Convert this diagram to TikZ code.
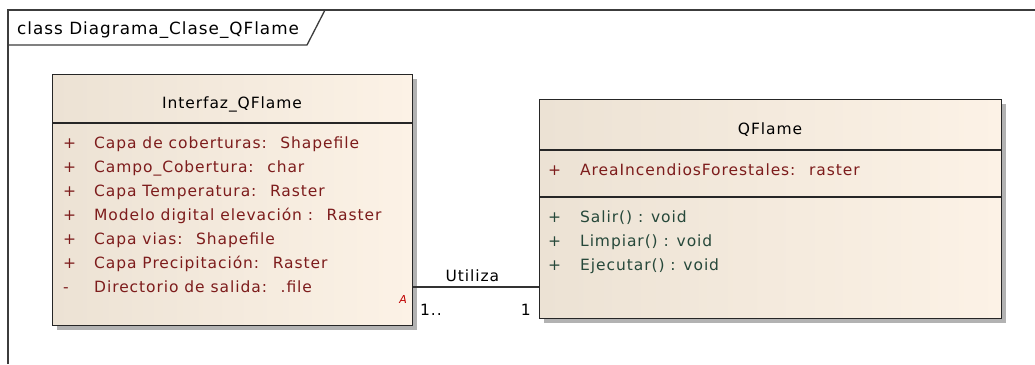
\documentclass[tikz,border=0pt]{standalone}
\usepackage{fontspec}
\setmainfont{DejaVu Sans}[LetterSpace=6]
\usetikzlibrary{calc}
\definecolor{framecol}{RGB}{60,60,60}
\definecolor{attrcol}{RGB}{125,28,28}
\definecolor{opcol}{RGB}{38,72,58}
\definecolor{shadowcol}{RGB}{178,178,178}
\definecolor{fillL}{RGB}{236,226,212}
\definecolor{fillR}{RGB}{252,242,230}
\newcommand{\umlfont}{\fontsize{15.5}{18}\selectfont}
\tikzset{
  classbox/.style={draw=black!85, line width=1.3pt, rectangle, inner sep=0pt,
    left color=fillL, right color=fillR},
  sepline/.style={draw=black!85, line width=1.1pt},
  txt/.style={anchor=base west, inner sep=0pt, font=\umlfont},
  ctxt/.style={anchor=base, inner sep=0pt, font=\umlfont},
  attr/.style={txt, text=attrcol},
  oper/.style={txt, text=opcol},
  conn/.style={draw=black!80, line width=1.1pt},
}
\begin{document}
\begin{tikzpicture}[x=1pt,y=-1pt]
\useasboundingbox (0,0) rectangle (1035,364);
\fill[white] (0,0) rectangle (1035,364);

% diagram frame with its name tab
\draw[framecol, line width=1.3pt] (8,364) -- (8,10) -- (1035,10);
\draw[framecol, line width=1.3pt] (8,45) -- (307,45) -- (325,10);
\node[txt, font=\fontsize{16.8}{19}\selectfont] (frametitle) at (17,34.5) {class Diagrama\_Clase\_QFlame};

% Interfaz_QFlame class
\fill[shadowcol] (57,79) rectangle (417,330);
\node[classbox, minimum width=360pt, minimum height=251pt, anchor=north west] (iface) at (52,74) {};
\draw[sepline] (52,123) -- (412,123);
\node[ctxt] (ifacetitle) at (232,108.5) {Interfaz\_QFlame};
\foreach \i/\vis/\t in {0/+/Capa de coberturas:~ Shapefile,
                        1/+/Campo\_Cobertura:~ char,
                        2/+/Capa Temperatura:~ Raster,
                        3/+/Modelo digital elevación :~ Raster,
                        4/+/Capa vias:~ Shapefile,
                        5/+/Capa Precipitación:~ Raster,
                        6/-/Directorio de salida:~ .file} {
  \node[attr] (ivis\i) at (63,148.5+24*\i) {\vis};
  \node[attr] (iattr\i) at (94,148.5+24*\i) {\t};
}
\node[anchor=base east, inner sep=0pt, text=red!75!black,
      font=\fontsize{11}{12}\selectfont\itshape] (abstr) at (407,303.5) {A};

% QFlame class
\fill[shadowcol] (544,104) rectangle (1006,323);
\node[classbox, minimum width=462pt, minimum height=219pt, anchor=north west] (qf) at (539,99) {};
\draw[sepline] (539,150) -- (1001,150);
\draw[sepline] (539,197) -- (1001,197);
\node[ctxt] (qftitle) at (770,134.5) {QFlame};
\node[attr] (qvis0) at (548,175.5) {+};
\node[attr] (qattr0) at (580,175.5) {AreaIncendiosForestales:~ raster};
\foreach \i/\t in {0/Salir()~: void, 1/Limpiar() : void, 2/Ejecutar() : void} {
  \node[oper] (qovis\i) at (548,222.5+24*\i) {+};
  \node[oper] (qop\i) at (580,222.5+24*\i) {\t};
}

% association
\coordinate (assocY) at (0,287);
\draw[conn] (iface.east |- assocY) -- (qf.west |- assocY)
  node[pos=0.47, above=5pt, inner sep=0pt, font=\umlfont] (lbl) {Utiliza};
\node[txt] (mult1) at (420,315.5) {1..};
\node[anchor=base east, inner sep=0pt, font=\umlfont] (mult2) at (531,315.5) {1};
\end{tikzpicture}
\end{document}
